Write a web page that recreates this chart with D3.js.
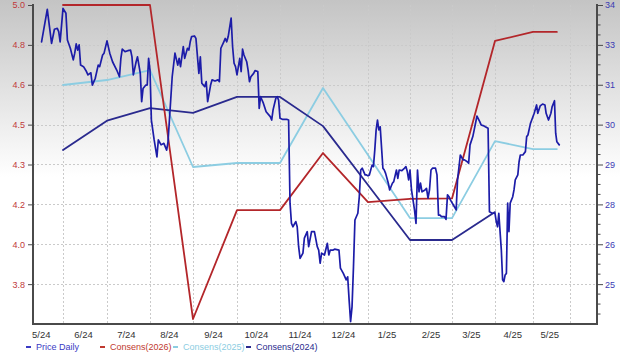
<!DOCTYPE html>
<html><head><meta charset="utf-8">
<script src="https://cdn.jsdelivr.net/npm/d3@7"></script>
<style>body{margin:0;background:#fff;}svg{display:block;}</style>
</head><body><svg id="c" width="620" height="354"></svg>
<script>
// ---------- DATA ----------
const leftTickValues = [5.0, 4.84, 4.68, 4.52, 4.36, 4.20, 4.04, 3.88];
const leftTickLabels = ["5.0","4.8","4.6","4.5","4.3","4.2","4.0","3.8"];
const rightTickValues = [34, 32.7, 31.4, 30.1, 28.8, 27.5, 26.2, 24.9];
const rightTickLabels = ["34","33","31","30","29","28","26","25"];
const leftDomain = [3.72, 5.0];
const rightDomain = [23.6, 34];

const monthLabels = ["5/24","6/24","7/24","8/24","9/24","10/24","11/24","12/24","1/25","2/25","3/25","4/25","5/25"];
const monthLabelDates = ["2024-05-15","2024-06-15","2024-07-15","2024-08-15","2024-09-15","2024-10-15","2024-11-15","2024-12-15","2025-01-15","2025-02-15","2025-03-15","2025-04-15","2025-05-15"];
const monthGridDates = ["2024-06-01","2024-07-01","2024-08-01","2024-09-01","2024-10-01","2024-11-01","2024-12-01","2025-01-01","2025-02-01","2025-03-01","2025-04-01","2025-05-01","2025-06-01"];

const consDates = ["2024-06-01","2024-07-01","2024-08-01","2024-09-01","2024-10-01","2024-11-01","2024-12-01","2025-01-01","2025-02-01","2025-03-01","2025-04-01","2025-05-01","2025-05-21"];
const cons2026 = [5.00, 5.00, 5.00, 3.74, 4.177, 4.177, 4.406, 4.209, 4.222, 4.224, 4.856, 4.892, 4.892];
const cons2025 = [4.679, 4.699, 4.739, 4.350, 4.366, 4.366, 4.667, 4.398, 4.145, 4.145, 4.454, 4.422, 4.422];
const cons2024 = [4.418, 4.536, 4.586, 4.567, 4.631, 4.631, 4.514, 4.278, 4.057, 4.057, 4.169];

const priceDates = ["2024-05-17","2024-05-21","2024-05-24","2024-05-26","2024-05-28","2024-05-29","2024-05-30","2024-06-01","2024-06-03","2024-06-04","2024-06-06","2024-06-08","2024-06-09","2024-06-10","2024-06-11","2024-06-12","2024-06-13","2024-06-15","2024-06-17","2024-06-18","2024-06-20","2024-06-21","2024-06-23","2024-06-25","2024-06-26","2024-06-28","2024-06-29","2024-07-01","2024-07-03","2024-07-05","2024-07-08","2024-07-10","2024-07-11","2024-07-12","2024-07-14","2024-07-16","2024-07-18","2024-07-19","2024-07-20","2024-07-22","2024-07-23","2024-07-25","2024-07-26","2024-07-27","2024-07-29","2024-07-30","2024-07-31","2024-08-01","2024-08-02","2024-08-04","2024-08-06","2024-08-07","2024-08-09","2024-08-11","2024-08-13","2024-08-14","2024-08-17","2024-08-19","2024-08-21","2024-08-22","2024-08-23","2024-08-25","2024-08-26","2024-08-28","2024-08-29","2024-08-30","2024-08-31","2024-09-02","2024-09-03","2024-09-05","2024-09-06","2024-09-07","2024-09-09","2024-09-10","2024-09-11","2024-09-13","2024-09-14","2024-09-16","2024-09-18","2024-09-19","2024-09-20","2024-09-22","2024-09-23","2024-09-24","2024-09-25","2024-09-27","2024-09-28","2024-09-29","2024-09-30","2024-10-01","2024-10-03","2024-10-04","2024-10-05","2024-10-06","2024-10-08","2024-10-09","2024-10-10","2024-10-11","2024-10-13","2024-10-14","2024-10-16","2024-10-17","2024-10-18","2024-10-20","2024-10-22","2024-10-25","2024-10-26","2024-10-27","2024-10-29","2024-10-30","2024-10-31","2024-11-01","2024-11-03","2024-11-06","2024-11-07","2024-11-08","2024-11-09","2024-11-10","2024-11-12","2024-11-13","2024-11-14","2024-11-15","2024-11-17","2024-11-18","2024-11-20","2024-11-21","2024-11-23","2024-11-25","2024-11-27","2024-11-28","2024-11-29","2024-11-30","2024-12-02","2024-12-04","2024-12-05","2024-12-06","2024-12-08","2024-12-09","2024-12-12","2024-12-13","2024-12-15","2024-12-17","2024-12-18","2024-12-19","2024-12-20","2024-12-21","2024-12-22","2024-12-23","2024-12-25","2024-12-26","2024-12-27","2024-12-28","2024-12-30","2024-12-31","2025-01-01","2025-01-02","2025-01-04","2025-01-05","2025-01-06","2025-01-07","2025-01-08","2025-01-09","2025-01-10","2025-01-12","2025-01-13","2025-01-14","2025-01-16","2025-01-17","2025-01-19","2025-01-20","2025-01-22","2025-01-23","2025-01-24","2025-01-26","2025-01-28","2025-01-29","2025-01-30","2025-01-31","2025-02-01","2025-02-02","2025-02-04","2025-02-05","2025-02-06","2025-02-07","2025-02-08","2025-02-09","2025-02-11","2025-02-12","2025-02-13","2025-02-14","2025-02-15","2025-02-16","2025-02-18","2025-02-19","2025-02-20","2025-02-21","2025-02-22","2025-02-24","2025-02-25","2025-02-26","2025-02-27","2025-02-28","2025-03-02","2025-03-04","2025-03-05","2025-03-07","2025-03-09","2025-03-10","2025-03-12","2025-03-13","2025-03-14","2025-03-16","2025-03-17","2025-03-19","2025-03-21","2025-03-22","2025-03-24","2025-03-25","2025-03-27","2025-03-28","2025-03-30","2025-04-01","2025-04-02","2025-04-03","2025-04-04","2025-04-06","2025-04-07","2025-04-08","2025-04-09","2025-04-10","2025-04-11","2025-04-12","2025-04-13","2025-04-15","2025-04-16","2025-04-17","2025-04-19","2025-04-20","2025-04-21","2025-04-23","2025-04-25","2025-04-26","2025-04-27","2025-04-29","2025-04-30","2025-05-02","2025-05-04","2025-05-05","2025-05-07","2025-05-09","2025-05-11","2025-05-12","2025-05-14","2025-05-16","2025-05-17","2025-05-19","2025-05-20","2025-05-21","2025-05-23"];
const priceValues = [32.80,33.86,32.75,33.21,33.24,33.13,32.80,33.89,33.73,32.86,32.59,32.21,32.43,32.73,32.53,32.70,32.04,31.99,31.83,31.72,31.79,31.39,31.61,32.04,31.99,32.37,32.43,32.83,32.43,32.15,31.88,31.66,32.26,32.56,32.48,32.51,32.53,32.31,31.72,32.15,32.31,31.77,30.85,31.28,31.39,31.39,32.26,31.88,30.25,29.60,29.05,29.60,29.44,29.49,29.27,29.54,31.66,32.43,32.04,32.26,31.99,32.64,32.26,32.59,32.53,32.80,32.97,32.99,32.91,31.77,32.31,31.45,31.34,31.50,30.85,31.39,31.56,31.52,31.56,31.50,32.59,32.80,32.91,32.80,32.97,33.57,32.64,32.10,31.99,31.72,32.26,31.83,32.56,32.37,32.15,31.88,31.50,31.66,31.77,31.86,31.83,30.63,31.01,30.80,30.52,30.36,30.25,30.58,30.96,31.01,30.90,30.31,30.27,30.27,30.25,27.54,26.88,26.77,26.94,26.77,26.12,25.74,25.91,26.40,26.61,26.12,26.61,26.61,26.12,26.01,25.58,25.91,25.85,26.23,25.85,26.01,26.01,26.04,26.01,25.42,25.25,25.04,25.14,24.38,23.68,24.16,25.47,26.99,27.21,27.75,28.62,28.68,28.46,28.46,28.43,28.46,28.78,28.73,29.27,29.93,30.25,29.93,30.03,28.68,28.62,28.51,28.19,27.97,28.19,28.24,28.62,28.35,28.62,28.60,28.68,28.73,28.57,28.30,28.62,27.97,27.32,26.88,28.62,27.91,28.19,27.91,27.97,28.02,27.70,27.97,28.62,28.68,28.68,28.46,27.15,27.15,27.10,27.10,27.01,27.81,27.75,27.64,27.48,27.32,28.30,29.11,28.95,28.95,28.89,28.84,29.44,29.71,29.93,30.38,30.20,30.09,30.06,30.03,29.98,27.26,27.21,27.21,26.94,26.77,27.21,26.01,25.04,24.98,25.20,25.25,27.54,26.61,27.54,27.75,27.97,28.30,28.46,28.89,29.11,29.11,29.22,29.71,29.76,30.14,30.25,30.47,30.74,30.47,30.71,30.77,30.74,30.47,30.25,30.47,30.68,30.88,29.82,29.54,29.44];

const legendNames = ["Price Daily","Consens(2026)","Consens(2025)","Consens(2024)"];

// ---------- LAYOUT / STYLE ----------
const W = 620, H = 354;
const P = {left: 33, right: 597, top: 5, bottom: 324};
// piecewise time axis: plot start, month boundaries, plot end
const xBreakDates = ["2024-05-11"].concat(monthGridDates, ["2025-06-23"]);
const xBreakPx = [33, 63, 107, 150, 193, 237, 280, 323, 368, 410, 452, 495, 533, 570, 597];
const colors = {price: "#1c1ca8", c2026: "#b3262a", c2025: "#8ccde2", c2024: "#2a2a8e"};
const legendColors = ["#3a3ac4", "#c0392f", "#8ccde2", "#2a2a8e"];
const legendX = [26, 100, 173, 246];
const font = "'Liberation Sans', Arial, sans-serif";

const parse = d3.timeParse("%Y-%m-%d");
const svg = d3.select("#c");

const defs = svg.append("defs");
const grad = defs.append("linearGradient").attr("id","bg").attr("x1",0).attr("y1",0).attr("x2",0).attr("y2",1);
grad.append("stop").attr("offset","0%").attr("stop-color","#c4c4c4");
grad.append("stop").attr("offset","50%").attr("stop-color","#ffffff");
grad.append("stop").attr("offset","100%").attr("stop-color","#ffffff");
defs.append("clipPath").attr("id","clip").append("rect")
  .attr("x",P.left).attr("y",P.top-2).attr("width",P.right-P.left).attr("height",P.bottom-P.top+2);

svg.append("rect").attr("width",W).attr("height",H).attr("fill","url(#bg)");

const x = d3.scaleTime().domain(xBreakDates.map(parse)).range(xBreakPx);
const yL = d3.scaleLinear().domain(leftDomain).range([P.bottom, P.top]);
const yR = d3.scaleLinear().domain(rightDomain).range([P.bottom, P.top]);

// grid
const grid = svg.append("g").attr("stroke","#cacaca").attr("stroke-width",1).attr("stroke-dasharray","2,2");
grid.selectAll("line.h").data(leftTickValues.slice(1)).join("line")
  .attr("x1",P.left).attr("x2",P.right)
  .attr("y1",d=>Math.round(yL(d))+0.5).attr("y2",d=>Math.round(yL(d))+0.5);
grid.selectAll("line.v").data(monthGridDates).join("line")
  .attr("x1",d=>Math.round(x(parse(d)))+0.5).attr("x2",d=>Math.round(x(parse(d)))+0.5)
  .attr("y1",P.top).attr("y2",P.bottom);

// lines
const plotG = svg.append("g").attr("clip-path","url(#clip)").attr("fill","none")
  .attr("stroke-linejoin","round").attr("stroke-linecap","round");
const lineL = d3.line().x(d=>x(d[0])).y(d=>yL(d[1]));
const lineR = d3.line().x(d=>x(d[0])).y(d=>yR(d[1]));
const zip = (ds, vs) => vs.map((v,i)=>[parse(ds[i]), v]);

plotG.append("path").attr("d", lineL(zip(consDates, cons2025))).attr("stroke",colors.c2025).attr("stroke-width",1.8);
plotG.append("path").attr("d", lineL(zip(consDates, cons2024))).attr("stroke",colors.c2024).attr("stroke-width",1.8);
plotG.append("path").attr("d", lineL(zip(consDates, cons2026))).attr("stroke",colors.c2026).attr("stroke-width",1.8);
plotG.append("path").attr("d", lineR(zip(priceDates, priceValues))).attr("stroke",colors.price).attr("stroke-width",1.7);

// axes frame
const ax = svg.append("g").attr("stroke","#4a4a4a");
ax.append("line").attr("x1",P.left).attr("x2",P.left).attr("y1",P.top-1).attr("y2",P.bottom+1).attr("stroke-width",2);
ax.append("line").attr("x1",P.right).attr("x2",P.right).attr("y1",P.top-1).attr("y2",P.bottom+1).attr("stroke-width",2);
ax.append("line").attr("x1",P.left-1).attr("x2",P.right+1).attr("y1",P.bottom).attr("y2",P.bottom).attr("stroke-width",2);

// left axis
const leftAxis = d3.axisLeft(yL).tickValues(leftTickValues).tickSize(4).tickPadding(3)
  .tickFormat((d,i)=>leftTickLabels[i]);
const gl = svg.append("g").attr("transform",`translate(${P.left-1},0)`).call(leftAxis);
gl.select(".domain").remove();
gl.selectAll(".tick line").attr("stroke","#4a4a4a");
gl.selectAll("text").attr("fill","#c0393b").style("font-family",font).style("font-size","9px");

// right axis minor ticks
const minor = [];
rightTickValues.forEach(v=>{ for(let k=1;k<4;k++){ const m=v-k*1.3/4; if(m>rightDomain[0]) minor.push(m);} });
svg.append("g").selectAll("line").data(minor).join("line")
  .attr("x1",P.right).attr("x2",P.right+3.5).attr("y1",d=>yR(d)).attr("y2",d=>yR(d)).attr("stroke","#4a4a4a");
const rightAxis = d3.axisRight(yR).tickValues(rightTickValues).tickSize(5).tickPadding(2)
  .tickFormat((d,i)=>rightTickLabels[i]);
const gr = svg.append("g").attr("transform",`translate(${P.right+1},0)`).call(rightAxis);
gr.select(".domain").remove();
gr.selectAll(".tick line").attr("stroke","#4a4a4a");
gr.selectAll("text").attr("fill","#3b3bb4").style("font-family",font).style("font-size","9px");

// x labels
const xl = svg.append("g").style("font-family",font).style("font-size","9.5px").attr("fill","#333");
xl.selectAll("text").data(monthLabels).join("text")
  .text(d=>d).attr("y",P.bottom+14).attr("text-anchor","middle")
  .attr("x",(d,i)=>x(parse(monthLabelDates[i])))
  .each(function(){
    const bb=this.getBBox();
    if(bb.x < P.left){ d3.select(this).attr("text-anchor","start").attr("x",P.left-1); }
  });

// legend
const lg = svg.append("g").style("font-family",font).style("font-size","9px");
legendNames.forEach((n,i)=>{
  lg.append("line").attr("x1",legendX[i]).attr("x2",legendX[i]+5).attr("y1",347).attr("y2",347)
    .attr("stroke",legendColors[i]).attr("stroke-width",2);
  lg.append("text").attr("x",legendX[i]+10).attr("y",350).attr("fill",legendColors[i]).text(n);
});
</script>
</body></html>
